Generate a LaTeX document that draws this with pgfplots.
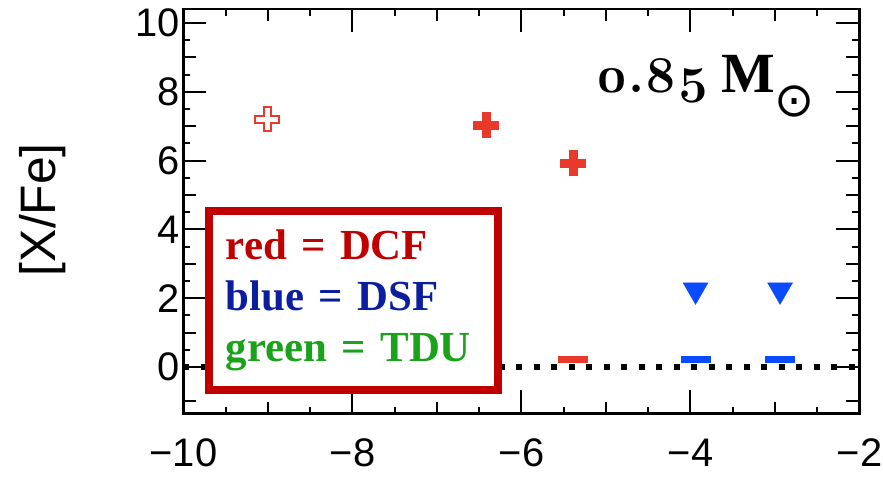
\documentclass[border=0pt]{standalone}
\usepackage{fontspec}
\usepackage{pgfplots}
\pgfplotsset{compat=1.18}
\newfontfamily\lsans{Liberation Sans}
\newfontfamily\lserif{Liberation Serif}
\newfontfamily\dejavu{DejaVu Sans}
\newfontfamily\lmold{Latin Modern Roman}[Numbers=OldStyle]
\definecolor{mred}{HTML}{E8392A}
\definecolor{mblue}{HTML}{0A4BFF}
\definecolor{boxred}{HTML}{C00000}
\definecolor{tred}{HTML}{C00000}
\definecolor{tblue}{HTML}{0A1E9E}
\definecolor{tgreen}{HTML}{1AA31A}
\begin{document}
\begin{tikzpicture}
\path[use as bounding box] (-183.5bp,-65.5bp) rectangle (699.5bp,413.5bp);
\begin{axis}[
  scale only axis, width=676bp, height=404.5bp,
  xmin=-10, xmax=-2, ymin=-1.35, ymax=10.41,
  xtick={-10,-8,-6,-4,-2}, xticklabels={−10,−8,−6,−4,−2},
  ytick={0,2,4,6,8,10},
  minor x tick num=3, minor y tick num=3,
  extra x ticks={-9,-7,-5,-3}, extra x tick labels={},
  extra y ticks={-1,1,3,5,7,9}, extra y tick labels={},
  extra x tick style={major tick length=12bp},
  extra y tick style={major tick length=13bp},
  tick align=inside, tick pos=both,
  major tick length=23bp, minor tick length=7bp,
  axis line style={line width=2.5bp},
  every tick/.style={black, line width=2bp},
  tick label style={font=\fontsize{40}{40}\selectfont\lsans},
  xticklabel style={yshift=-22bp},
  /pgf/number format/assume math mode=true,
  ylabel={[X/Fe]},
  ylabel style={font=\fontsize{50}{50}\selectfont\lsans, at={(axis description cs:-0.2086,0.504)}, anchor=center},
  clip=false,
]
\addplot[black, line width=6bp, dash pattern=on 6bp off 11.5bp] coordinates {(-10,0) (-2,0)};
% open cross
\addplot[only marks, mark=+, mark size=13bp, mark options={mred, line width=9bp}] coordinates {(-9.01,7.21)};
\addplot[only marks, mark=+, mark size=11bp, mark options={white, line width=5bp}] coordinates {(-9.01,7.21)};
% filled crosses
\addplot[only marks, mark=+, mark size=13bp, mark options={mred, line width=9bp}] coordinates {(-6.42,7.03) (-5.39,5.93)};
% red dash
\addplot[only marks, mark=-, mark size=15bp, mark options={mred, line width=7bp}] coordinates {(-5.39,0.22)};
% blue dashes
\addplot[only marks, mark=-, mark size=15bp, mark options={mblue, line width=7bp}] coordinates {(-3.94,0.22) (-2.94,0.22)};
% blue triangles
\addplot[only marks, mark=triangle*, mark size=14.4bp, mark options={mblue, draw=mblue, rotate=180}] coordinates {(-3.94,2.24) (-2.94,2.24)};
\node[draw=boxred, line width=8bp, fill=white, anchor=north west, minimum width=289bp, minimum height=179bp, text width=255bp, inner xsep=17bp, inner ysep=0pt, align=left, font=\fontsize{43}{51}\selectfont\lserif\bfseries] at (axis description cs:0.0318,0.5105)
 {\textcolor{tred}{red = DCF}\\\textcolor{tblue}{blue = DSF}\\\textcolor{tgreen}{green = TDU}};
\node[anchor=base west, inner sep=0pt] at (axis description cs:0.6088,0.7948)
 {{\fontsize{52}{52}\selectfont\lmold\bfseries 0.85}\hspace{12bp}{\fontsize{57}{57}\selectfont\lserif\bfseries M}\hspace{0bp}\raisebox{-24bp}{\fontsize{48}{48}\selectfont\dejavu ⊙}};
\end{axis}
\end{tikzpicture}
\end{document}
